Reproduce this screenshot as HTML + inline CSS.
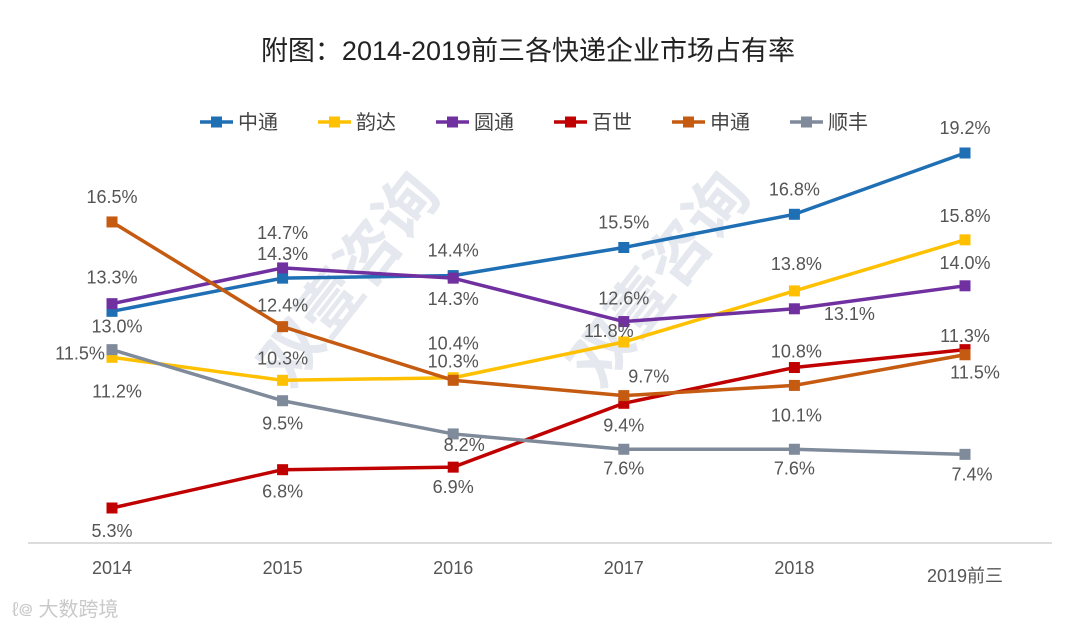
<!DOCTYPE html>
<html><head><meta charset="utf-8">
<style>
html,body{margin:0;padding:0;background:#fff;}
svg{display:block;font-family:"Liberation Sans","Noto Sans CJK SC",sans-serif;}
</style></head>
<body>
<svg id="chart" width="1080" height="630" viewBox="0 0 1080 630">
  <rect width="1080" height="630" fill="#fff"/>
  <g fill="#dfe3ea" font-size="62" font-weight="bold" opacity="0.8">
    <text x="0" y="0" transform="translate(290,390) rotate(-52)">双壹咨询</text>
    <text x="0" y="0" transform="translate(600,390) rotate(-52)">双壹咨询</text>
  </g>
  <text x="528" y="60" text-anchor="middle" font-size="27" fill="#222">附图：2014-2019前三各快递企业市场占有率</text>
  <line x1="28" y1="543" x2="1052" y2="543" stroke="#d0d0d0" stroke-width="1.5"/>
  <g id="legend"></g>
  <g id="series"></g>
  <g id="xlabels"></g>
  <g>
    <text x="12" y="616" font-size="20" fill="#c9c9c9">ℓ᪤ 大数跨境</text>
  </g>
</svg>
<script>
const categories = ["2014","2015","2016","2017","2018","2019前三"];
const seriesNames = ["中通","韵达","圆通","百世","申通","顺丰"];
const zto = [13.0,14.3,14.4,15.5,16.8,19.2];
const yunda = [11.2,10.3,10.4,11.8,13.8,15.8];
const yto = [13.3,14.7,14.3,12.6,13.1,14.0];
const best = [5.3,6.8,6.9,9.4,10.8,11.5];
const sto = [16.5,12.4,10.3,9.7,10.1,11.3];
const sf = [11.5,9.5,8.2,7.6,7.6,7.4];
const seriesValues = [zto,yunda,yto,best,sto,sf];
const colors = ["#1f6fb5","#ffc000","#7030a0","#c00000","#c55a11","#7f8a9a"];
// label offsets (dx,dy) relative to each point
const labelOffsets = [
  [[5,15],[0,-24],[0,-25],[0,-25],[0,-25],[0,-25]],
  [[5,34],[0,-22],[0,-34],[-15,-11],[2,-27],[0,-24]],
  [[0,-26],[0,-35],[0,21],[0,-23],[55,5],[0,-23]],
  [[0,23],[0,22],[0,20],[0,22],[2,-16],[10,23]],
  [[0,-25],[0,-21],[0,-19],[25,-19],[2,30],[0,-19]],
  [[-32,4],[0,23],[11,11],[0,19],[0,19],[7,20]]
];
const NS="http://www.w3.org/2000/svg";
function xPos(i){return 112+i*170.6;}
function yPos(v){return 508-(v-5.3)*25.54;}
function mk(tag,attrs,parent){const e=document.createElementNS(NS,tag);for(const k in attrs)e.setAttribute(k,attrs[k]);parent.appendChild(e);return e;}
const sg=document.getElementById('series');
seriesValues.forEach((vals,s)=>{
  const g=mk('g',{},sg);
  
  
  const pts=vals.map((v,i)=>xPos(i)+','+yPos(v)).join(' ');
  const pl=mk('polyline',{points:pts,fill:'none',stroke:colors[s],'stroke-width':3.5,'stroke-linejoin':'round'},g);
  
  
  vals.forEach((v,i)=>{
    const r=mk('rect',{x:xPos(i)-5.5,y:yPos(v)-5.5,width:11,height:11,fill:colors[s]},g);
    
    
  });
});
const lg=document.createElementNS(NS,'g');
sg.parentNode.appendChild(lg);
seriesValues.forEach((vals,s)=>{
  vals.forEach((v,i)=>{
    const o=labelOffsets[s][i];
    const t=mk('text',{x:xPos(i)+o[0],y:yPos(v)+o[1]+6,'text-anchor':'middle','font-size':18,fill:'#555'},lg);
    t.textContent=v.toFixed(1)+'%';
    
    
  });
});
const leg=document.getElementById('legend');
seriesNames.forEach((n,s)=>{
  const x0=200+s*118;
  const g=mk('g',{},leg);
  
  
  mk('line',{x1:x0,y1:122,x2:x0+33,y2:122,stroke:colors[s],'stroke-width':3.5},g);
  mk('rect',{x:x0+11,y:116.5,width:11,height:11,fill:colors[s]},g);
  const t=mk('text',{x:x0+38,y:129,'font-size':20,fill:'#444'},g);
  t.textContent=n;
});
const xl=document.getElementById('xlabels');
categories.forEach((c,i)=>{
  const t=mk('text',{x:xPos(i),y:i===5?582:574,'text-anchor':'middle','font-size':18,fill:'#555'},xl);
  t.textContent=c;
  
  
});
</script>
</body></html>
